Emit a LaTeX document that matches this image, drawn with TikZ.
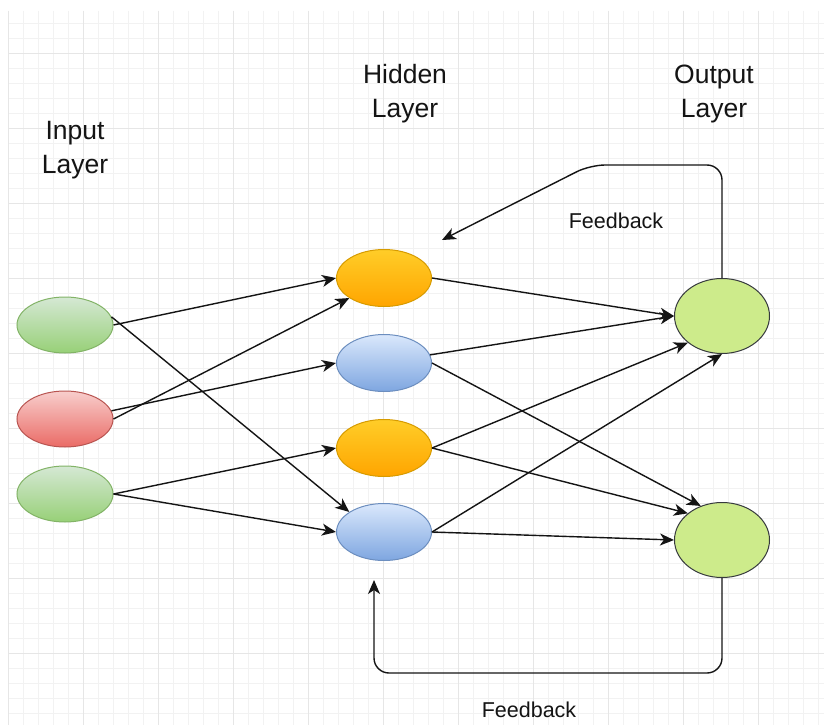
\documentclass[tikz,border=0pt]{standalone}
\usepackage{fontspec}
\setmainfont{Liberation Sans}
\usetikzlibrary{arrows.meta,shapes.geometric}

\definecolor{gridminor}{HTML}{F2F2F2}
\definecolor{gridmajor}{HTML}{E6E6E6}
\definecolor{gstroke}{HTML}{82B366}
\definecolor{gtop}{HTML}{D5E8D4}
\definecolor{gbot}{HTML}{97D077}
\definecolor{rstroke}{HTML}{B85450}
\definecolor{rtop}{HTML}{F8CECC}
\definecolor{rbot}{HTML}{EA6B66}
\definecolor{ostroke}{HTML}{D79B00}
\definecolor{otop}{HTML}{FFCD28}
\definecolor{obot}{HTML}{FFA500}
\definecolor{bstroke}{HTML}{6C8EBF}
\definecolor{btop}{HTML}{DAE8FC}
\definecolor{bbot}{HTML}{7EA6E0}
\definecolor{outfill}{HTML}{CDEB8B}
\definecolor{outstroke}{HTML}{36393D}
\definecolor{ink}{HTML}{141414}

\tikzset{
  neuron/.style={ellipse, minimum width=95pt, minimum height=57pt, inner sep=0pt, line width=1pt},
  greenN/.style={neuron, draw=gstroke, top color=gtop, bottom color=gbot},
  redN/.style={neuron, draw=rstroke, top color=rtop, bottom color=rbot},
  orangeN/.style={neuron, draw=ostroke, top color=otop, bottom color=obot},
  blueN/.style={neuron, draw=bstroke, top color=btop, bottom color=bbot},
  outN/.style={neuron, minimum height=75pt, draw=outstroke, fill=outfill},
  link/.style={draw=ink, line width=1.4pt, -{Stealth[length=14pt,width=12pt,inset=4pt]}},
  layerlabel/.style={align=center, text=ink, inner sep=0pt, anchor=base,
    font=\fontsize{26.5}{33.5}\selectfont},
  fblabel/.style={text=ink, inner sep=0pt, anchor=base, font=\fontsize{21.5}{26}\selectfont}
}

\begin{document}
\begin{tikzpicture}[x=1pt,y=-1pt]
\useasboundingbox (0,0) rectangle (824,725);
\fill[white] (0,0) rectangle (824,725);

% background grid: fine lines every 15pt, heavier every 75pt
\foreach \x in {8,23,...,818} \draw[gridminor, line width=0.8pt] (\x,11) -- (\x,725);
\foreach \y in {23,38,...,718} \draw[gridminor, line width=0.8pt] (8,\y) -- (824,\y);
\foreach \x in {8,83,...,758} \draw[gridmajor, line width=0.9pt] (\x,11) -- (\x,725);
\foreach \y in {53,128,...,653} \draw[gridmajor, line width=0.9pt] (8,\y) -- (824,\y);

% layer titles (anchored on the baseline of the second line)
\node[layerlabel] (tin)  at (75,173)  {Input\\Layer};
\node[layerlabel] (thid) at (405,117) {Hidden\\Layer};
\node[layerlabel] (tout) at (714,117) {Output\\Layer};

% input layer
\node[greenN, minimum width=96pt, minimum height=56pt] (i1) at (65,325) {};
\node[redN,   minimum width=96pt, minimum height=56pt] (i2) at (65,419) {};
\node[greenN, minimum width=96pt, minimum height=56pt] (i3) at (65,494) {};

% hidden layer
\node[orangeN] (h1) at (384,278) {};
\node[blueN]   (h2) at (384,363) {};
\node[orangeN] (h3) at (384,448) {};
\node[blueN]   (h4) at (384,532) {};

% output layer
\node[outN] (o1) at (722,316) {};
\node[outN] (o2) at (722,540) {};

% input -> hidden
\draw[link] (i1.east) -- (h1.west);
\draw[link] (i1.10)   -- (h4.150);
\draw[link] (i2.east) -- (h1.210);
\draw[link] (i2.10)   -- (h2.west);
\draw[link] (i3.east) -- (h3.west);
\draw[link] (i3.east) -- (h4.west);

% hidden -> output
\draw[link] (h1.east) -- (o1.west);
\draw[link] (h2.10)   -- (o1.west);
\draw[link] (h2.east) -- (o2.122);
\draw[link] (h3.east) -- (o1.218);
\draw[link] (h3.east) -- (o2.142);
\draw[link] (h4.east) -- (o1.south);
\draw[link] (h4.east) -- (o2.west);

% feedback loops
\coordinate (fbtopbend) at (590,165);
\coordinate (fbtoptip)  at (442,240);
\coordinate (fbbotturn) at (374,673);
\coordinate (fbbottip)  at (374,580);
\draw[link, rounded corners=15pt] (o1.north) |- (fbtopbend) -- (fbtoptip);
\draw[link, rounded corners=15pt] (o2.south) |- (fbbotturn) -- (fbbottip);

\node[fblabel] (fbt) at (616,228) {Feedback};
\node[fblabel] (fbb) at (529,717) {Feedback};
\end{tikzpicture}
\end{document}
